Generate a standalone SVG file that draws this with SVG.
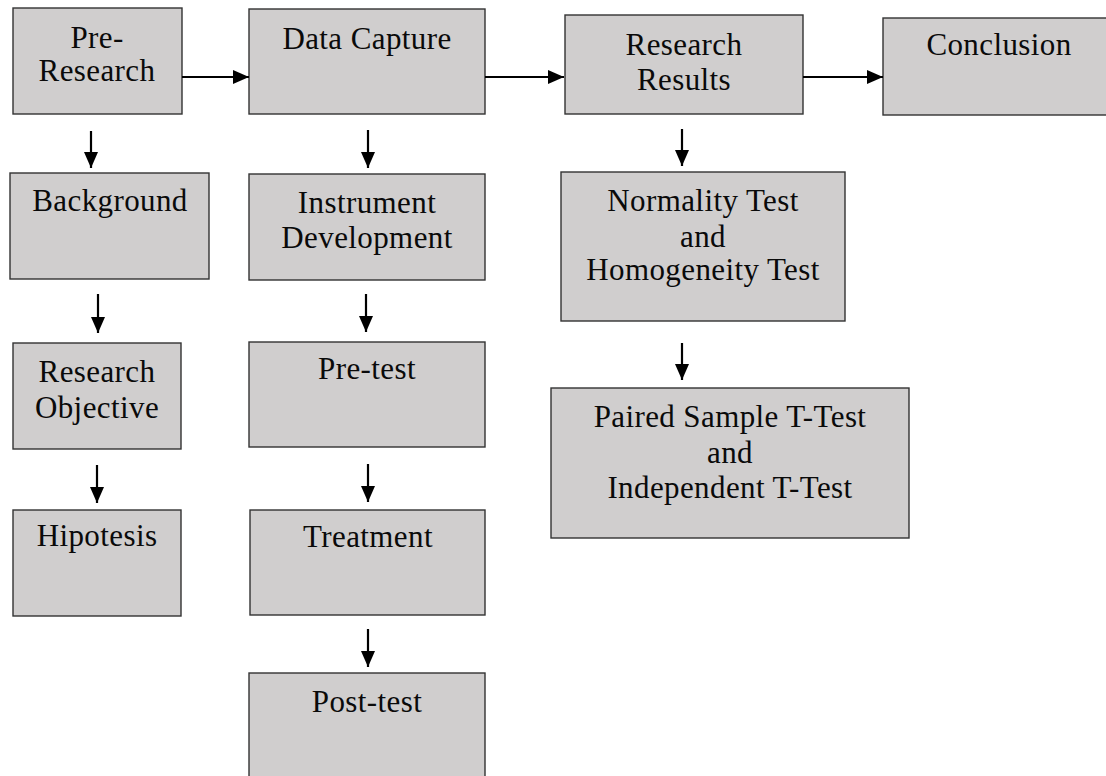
<svg xmlns="http://www.w3.org/2000/svg" width="1106" height="776" viewBox="0 0 1106 776">
  <style>
    .box { fill: #d0cece; stroke: #333; stroke-width: 1.4; }
    .lbl { font-family: "Liberation Serif", "Times New Roman", serif; font-size: 31px; fill: #0a0a0a; text-anchor: middle; letter-spacing: 0.4px; }
    .arr { stroke: #000; stroke-width: 2.2; fill: none; marker-end: url(#head); }
  </style>
  <defs>
    <marker id="head" viewBox="0 0 16 14" refX="16" refY="7" markerWidth="16" markerHeight="14" markerUnits="userSpaceOnUse" orient="auto">
      <path d="M0,0 L16,7 L0,14 z" fill="#000"/>
    </marker>
  </defs>
  <rect width="1106" height="776" fill="#fff"/>

  <!-- column 1: pre-research stage -->
  <g id="pre-research">
    <rect class="box" x="13" y="8" width="169" height="106"/>
    <text class="lbl" x="97" y="48">Pre-</text>
    <text class="lbl" x="97" y="81">Research</text>
  </g>
  <g id="background">
    <rect class="box" x="10" y="173" width="199" height="106"/>
    <text class="lbl" x="110" y="211">Background</text>
  </g>
  <g id="research-objective">
    <rect class="box" x="13" y="343" width="168" height="106"/>
    <text class="lbl" x="97" y="382">Research</text>
    <text class="lbl" x="97" y="418">Objective</text>
  </g>
  <g id="hipotesis">
    <rect class="box" x="13" y="510" width="168" height="106"/>
    <text class="lbl" x="97" y="546">Hipotesis</text>
  </g>

  <!-- column 2: data capture stage -->
  <g id="data-capture">
    <rect class="box" x="249" y="9" width="236" height="105"/>
    <text class="lbl" x="367" y="49">Data Capture</text>
  </g>
  <g id="instrument-development">
    <rect class="box" x="249" y="174" width="236" height="106"/>
    <text class="lbl" x="367" y="213">Instrument</text>
    <text class="lbl" x="367" y="248">Development</text>
  </g>
  <g id="pre-test">
    <rect class="box" x="249" y="342" width="236" height="105"/>
    <text class="lbl" x="367" y="379">Pre-test</text>
  </g>
  <g id="treatment">
    <rect class="box" x="250" y="510" width="235" height="105"/>
    <text class="lbl" x="368" y="547">Treatment</text>
  </g>
  <g id="post-test">
    <rect class="box" x="249" y="673" width="236" height="120"/>
    <text class="lbl" x="367" y="712">Post-test</text>
  </g>

  <!-- column 3: results stage -->
  <g id="research-results">
    <rect class="box" x="565" y="15" width="238" height="99"/>
    <text class="lbl" x="684" y="55">Research</text>
    <text class="lbl" x="684" y="90">Results</text>
  </g>
  <g id="normality-test">
    <rect class="box" x="561" y="172" width="284" height="149"/>
    <text class="lbl" x="703" y="211">Normality Test</text>
    <text class="lbl" x="703" y="247">and</text>
    <text class="lbl" x="703" y="280">Homogeneity Test</text>
  </g>
  <g id="paired-sample-t-test">
    <rect class="box" x="551" y="388" width="358" height="150"/>
    <text class="lbl" x="730" y="427">Paired Sample T-Test</text>
    <text class="lbl" x="730" y="463">and</text>
    <text class="lbl" x="730" y="498">Independent T-Test</text>
  </g>

  <!-- column 4 -->
  <g id="conclusion">
    <rect class="box" x="883" y="18" width="240" height="97"/>
    <text class="lbl" x="999" y="55">Conclusion</text>
  </g>

  <!-- connectors -->
  <g id="connectors">
    <line class="arr" x1="182" y1="77" x2="249" y2="77"/>
    <line class="arr" x1="485" y1="77" x2="564" y2="77"/>
    <line class="arr" x1="803" y1="77" x2="883" y2="77"/>

    <line class="arr" x1="91" y1="131" x2="91" y2="168"/>
    <line class="arr" x1="98" y1="294" x2="98" y2="333"/>
    <line class="arr" x1="97" y1="465" x2="97" y2="503"/>

    <line class="arr" x1="368" y1="130" x2="368" y2="168"/>
    <line class="arr" x1="366" y1="294" x2="366" y2="332"/>
    <line class="arr" x1="368" y1="464" x2="368" y2="502"/>
    <line class="arr" x1="368" y1="629" x2="368" y2="667"/>

    <line class="arr" x1="682" y1="129" x2="682" y2="166"/>
    <line class="arr" x1="682" y1="343" x2="682" y2="380"/>
  </g>
</svg>
